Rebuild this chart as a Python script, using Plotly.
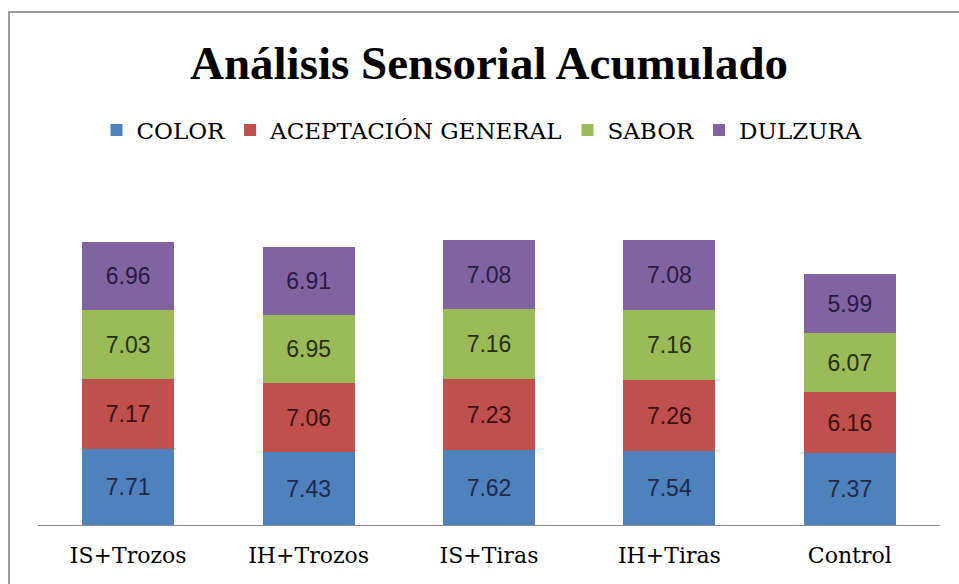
import plotly.graph_objects as go

categories = ["IS+Trozos", "IH+Trozos", "IS+Tiras", "IH+Tiras", "Control"]
color_vals = [7.71, 7.43, 7.62, 7.54, 7.37]
aceptacion_vals = [7.17, 7.06, 7.23, 7.26, 6.16]
sabor_vals = [7.03, 6.95, 7.16, 7.16, 6.07]
dulzura_vals = [6.96, 6.91, 7.08, 7.08, 5.99]

series = [
    ("COLOR", color_vals, "#4F81BD", "#1c2b4a"),
    ("ACEPTACIÓN GENERAL", aceptacion_vals, "#C0504D", "#3d0f0e"),
    ("SABOR", sabor_vals, "#9BBB59", "#263010"),
    ("DULZURA", dulzura_vals, "#8064A2", "#2b1a44"),
]

W, H = 959, 584
L, R, T, B = 38, 19, 182, 59
pw = W - L - R
ph = H - T - B

fig = go.Figure()
for name, vals, col, tcol in series:
    fig.add_trace(go.Bar(
        name=name, x=categories, y=vals,
        marker=dict(color=col, line=dict(width=0)),
        texttemplate="%{y:.2f}", textposition="inside",
        insidetextanchor="middle", textangle=0,
        constraintext="none",
        textfont=dict(family="Liberation Sans, Arial, sans-serif", size=23, color=tcol),
        hoverinfo="skip",
    ))

def px_x(px):
    return (px - L) / pw

def px_y(py):
    return (H - B - py) / ph

fig.update_layout(
    width=W, height=H,
    barmode="stack", bargap=0.49,
    margin=dict(l=L, r=R, t=T, b=B, autoexpand=False),
    paper_bgcolor="white", plot_bgcolor="white",
    title=dict(
        text="<b>Análisis Sensorial Acumulado</b>",
        font=dict(family="Liberation Serif, Times New Roman, serif", size=47, color="black"),
        x=0.5, xref="paper", xanchor="center",
        y=1 - 63 / H, yref="container", yanchor="middle",
    ),
    legend=dict(
        orientation="h", x=px_x(482), xanchor="center",
        y=px_y(130), yanchor="middle",
        font=dict(family="DejaVu Serif, serif", size=23, color="black"),
        traceorder="normal", itemclick=False, itemdoubleclick=False,
        bgcolor="rgba(0,0,0,0)",
    ),
    xaxis=dict(
        showline=True, linecolor="#8a8a8a", linewidth=1,
        ticks="", showgrid=False, zeroline=False,
        tickfont=dict(family="DejaVu Serif, serif", size=22, color="black"),
        ticklabelstandoff=11,
        fixedrange=True,
    ),
    yaxis=dict(
        range=[0, 35], visible=False, showgrid=False, zeroline=False,
        fixedrange=True,
    ),
    showlegend=True,
    shapes=[dict(
        type="rect", xref="paper", yref="paper",
        x0=px_x(9), x1=px_x(975), y0=px_y(600), y1=px_y(12),
        line=dict(color="#9a9a9a", width=2), fillcolor="rgba(0,0,0,0)",
        layer="below",
    )],
)

fig.write_html(
    "out.html",
    config={"displayModeBar": False},
    post_script="document.body.style.margin='0';document.body.style.overflow='hidden';",
)
